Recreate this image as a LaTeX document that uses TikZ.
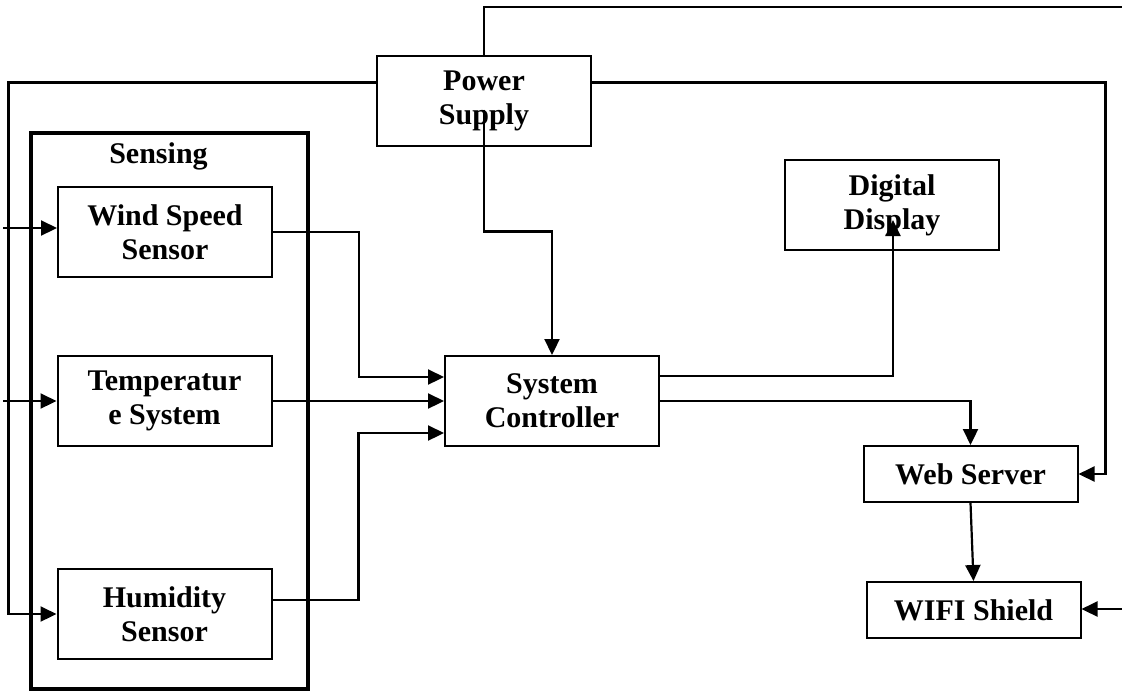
\documentclass[tikz,border=0pt]{standalone}
\usepackage{fontspec}
\setmainfont{Liberation Serif}
\usepackage{tikz}
\usetikzlibrary{arrows.meta,positioning,calc}
\tikzset{
  blk/.style={draw=black,line width=1pt,minimum width=107pt,minimum height=45pt,
    align=center,inner sep=2pt,font=\fontsize{15}{17}\selectfont\bfseries},
  blks/.style={blk,minimum height=28pt},
  frame/.style={draw=black,line width=2.2pt,minimum width=138.5pt,minimum height=278pt,inner sep=0pt},
  wire/.style={line width=1.1pt,draw=black},
  flow/.style={-{Triangle[length=8pt,width=7.5pt]},line width=1.1pt,draw=black},
  title/.style={font=\fontsize{15}{17}\selectfont\bfseries,inner sep=1pt}
}
\begin{document}
\begin{tikzpicture}[x=0.5pt,y=-0.5pt]
  \useasboundingbox (0,0) rectangle (1122,692);
  % sensing group
  \node[frame] (sensing) at (169.5,411) {};
  \node[title] (senselbl) at (158.5,156) {Sensing};
  \node[blk] (wind) at (165,232) {Wind Speed\\Sensor};
  \node[blk] (temp) at (164.5,401) {Temperatur\\e System};
  \node[blk] (hum) at (164.5,614) {Humidity\\Sensor};

  \node[blk] (pwr) at (484,100.5) {Power\\Supply};
  \node[blk] (sc) at (552,401) {System\\Controller};
  \node[blk] (disp) at (892,205) {Digital\\Display};
  \node[blks] (web) at (970.5,474) {Web Server};
  \node[blks] (wifi) at (973.5,610) {WIFI Shield};

  % free ends at the border
  \coordinate (inW) at (3,228);
  \coordinate (inT) at (3,401);
  \coordinate (inF) at (1122,609);
  \coordinate (outP) at (1122,7);

  \draw[flow] (inW) -- (inW -| wind.west);
  \draw[flow] (inT) -- (temp.west);
  \draw[flow] (inF) -- (inF -| wifi.east);

  % power lines
  \draw[wire] (pwr.north) |- (outP);
  \draw[flow] ($(pwr.west)+(0,-18)$) -| ($(hum.west)+(-48,0)$) -- (hum.west);
  \draw[flow] ($(pwr.east)+(0,-18)$) -| ($(web.east)+(27,0)$) -- (web.east);
  \draw[flow] ($(pwr.center)+(0,9)$) -- ++(0,122) -| (sc.north);

  % sensors to controller
  \draw[flow] (wind.east) -- ++(86,0) |- ($(sc.west)+(0,-24)$);
  \draw[flow] (temp.east) -- (sc.west);
  \draw[flow] ($(hum.east)+(0,-14)$) -- ++(86,0) |- ($(sc.west)+(0,32)$);

  % controller outputs
  \draw[flow] ($(sc.east)+(0,-25)$) -| ($(disp.center)+(1,15)$);
  \draw[flow] (sc.east) -| (web.north);
  \draw[flow] (web.south) -- (wifi.north);
\end{tikzpicture}
\end{document}
